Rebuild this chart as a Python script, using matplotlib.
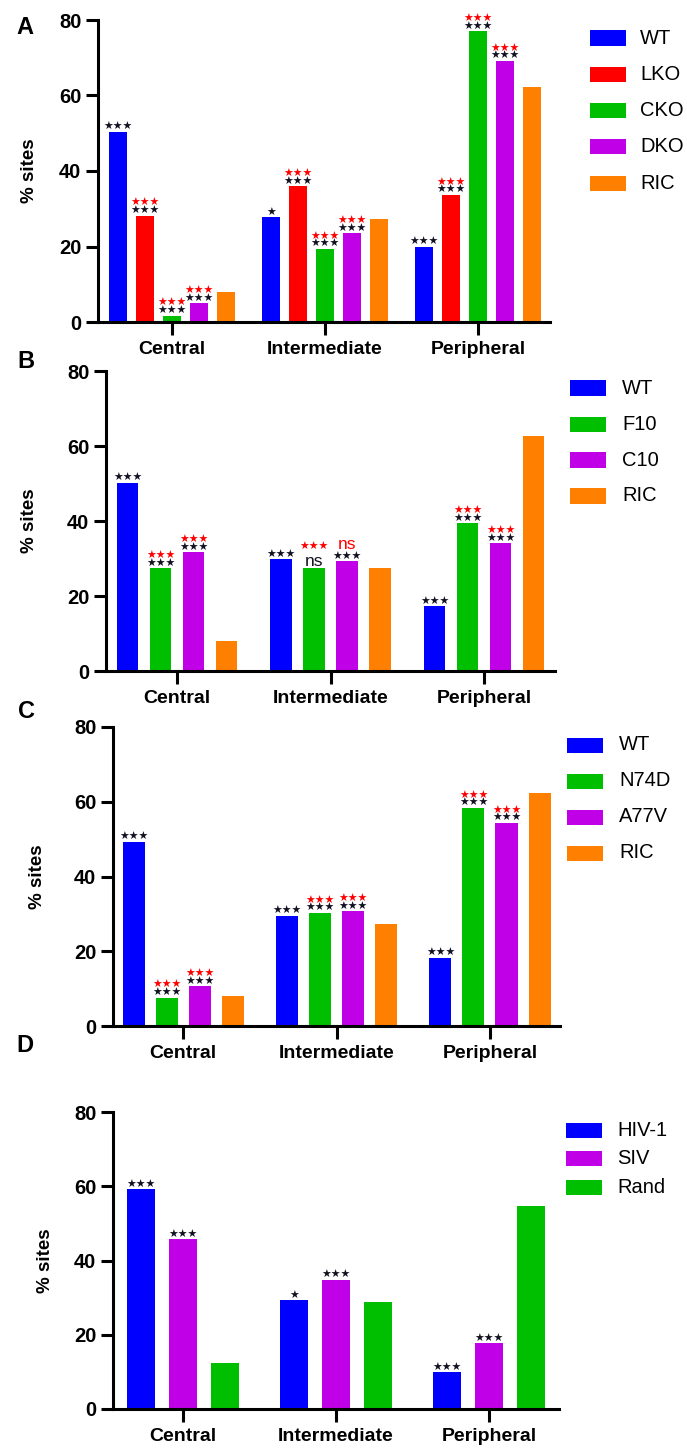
import numpy as np
import matplotlib
matplotlib.use('Agg')
import matplotlib.pyplot as plt
from matplotlib.patches import Rectangle

plt.rcParams['font.family'] = ['Liberation Sans', 'DejaVu Sans']

W, H = 687, 1450

# ── data
categories = ['Central', 'Intermediate', 'Peripheral']

a_labels = ['WT', 'LKO', 'CKO', 'DKO', 'RIC']
a_wt = [50.4, 27.8, 20.0]
a_lko = [28.2, 35.9, 33.7]
a_cko = [1.7, 19.4, 77.0]
a_dko = [5.0, 23.6, 69.2]
a_ric = [7.9, 27.2, 62.3]
a_black = [['***', '*', '***'], ['***', '***', '***'], ['***', '***', '***'],
           ['***', '***', '***'], ['', '', '']]
a_red = [['', '', ''], ['***', '***', '***'], ['***', '***', '***'],
         ['***', '***', '***'], ['', '', '']]

b_labels = ['WT', 'F10', 'C10', 'RIC']
b_wt = [50.2, 29.8, 17.3]
b_f10 = [27.5, 27.5, 39.4]
b_c10 = [31.7, 29.3, 34.1]
b_ric = [8.0, 27.4, 62.7]
b_black = [['***', '***', '***'], ['***', 'ns', '***'], ['***', '***', '***'], ['', '', '']]
b_red = [['', '', ''], ['***', '***', '***'], ['***', 'ns', '***'], ['', '', '']]

c_labels = ['WT', 'N74D', 'A77V', 'RIC']
c_wt = [49.3, 29.5, 18.3]
c_n74d = [7.6, 30.3, 58.4]
c_a77v = [10.7, 30.8, 54.4]
c_ric = [8.0, 27.3, 62.4]
c_black = [['***', '***', '***'], ['***', '***', '***'], ['***', '***', '***'], ['', '', '']]
c_red = [['', '', ''], ['***', '***', '***'], ['***', '***', '***'], ['', '', '']]

d_labels = ['HIV-1', 'SIV', 'Rand']
d_hiv = [59.3, 29.3, 10.0]
d_siv = [45.7, 34.8, 17.7]
d_rand = [12.3, 28.8, 54.8]
d_black = [['***', '*', '***'], ['***', '***', '***'], ['', '', '']]
d_red = [['', '', ''], ['', '', ''], ['', '', '']]

BLUE, RED, GREEN, PURPLE, ORANGE = '#0000FF', '#FF0000', '#00BF00', '#C000E6', '#FF8000'

panels = [
    dict(letter='A', labels=a_labels, series=[a_wt, a_lko, a_cko, a_dko, a_ric],
         colors=[BLUE, RED, GREEN, PURPLE, ORANGE], black=a_black, red=a_red,
         box=(98, 20, 550, 322), c0=172, sp=153, bw=18.5, step=27,
         leg=(590, 640, 38, 36.3, 15), letter_xy=(25, 27), ylab_x=30),
    dict(letter='B', labels=b_labels, series=[b_wt, b_f10, b_c10, b_ric],
         colors=[BLUE, GREEN, PURPLE, ORANGE], black=b_black, red=b_red,
         box=(106, 371, 555, 671), c0=177, sp=153.5, bw=21.5, step=33,
         leg=(570, 622, 388, 36, 15), letter_xy=(26, 362), ylab_x=29),
    dict(letter='C', labels=c_labels, series=[c_wt, c_n74d, c_a77v, c_ric],
         colors=[BLUE, GREEN, PURPLE, ORANGE], black=c_black, red=c_red,
         box=(113, 727, 560, 1026), c0=183, sp=153.5, bw=22, step=33,
         leg=(567, 619, 745, 36, 15), letter_xy=(26, 711), ylab_x=37),
    dict(letter='D', labels=d_labels, series=[d_hiv, d_siv, d_rand],
         colors=[BLUE, PURPLE, GREEN], black=d_black, red=d_red,
         box=(113, 1112, 559, 1409), c0=183, sp=153, bw=28, step=42,
         leg=(566, 617, 1130, 28.7, 15), letter_xy=(25, 1046), ylab_x=45),
]

fig = plt.figure(figsize=(W / 100, H / 100), dpi=100)


def mark(ax, s, x, y, off, color, z):
    # '*' drawn as a filled star, 'ns' as plain text
    if s == 'ns':
        ax.annotate(s, (x, y), xytext=(0, off), textcoords='offset points', ha='center',
                    va='baseline', fontsize=12.5, color=color, zorder=z)
    else:
        ax.annotate(s.replace('*', '★'), (x, y), xytext=(0, off), textcoords='offset points',
                    ha='center', va='baseline', fontsize=7.8, color=color,
                    family=['DejaVu Sans'], zorder=z)


for p in panels:
    l, t, r, b = p['box']
    ax = fig.add_axes([l / W, 1 - b / H, (r - l) / W, (b - t) / H])
    sp = p['sp']
    n = len(p['series'])
    x = np.arange(len(categories))
    bw = p['bw'] / sp
    step = p['step'] / sp
    for i, (vals, col) in enumerate(zip(p['series'], p['colors'])):
        xs = x + (i - (n - 1) / 2) * step
        ax.bar(xs, vals, width=bw, color=col, edgecolor='none', zorder=2)
        for j in range(len(categories)):
            bl = p['black'][i][j]
            rd = p['red'][i][j]
            off = 1.0
            if bl:
                mark(ax, bl, xs[j], vals[j], off, '#111122', 5)
                off += 12.0 if bl == 'ns' else 5.6
            if rd:
                if rd == 'ns':
                    off += 2.0
                mark(ax, rd, xs[j], vals[j], off, RED, 4)

    ax.set_xlim((l - p['c0']) / sp, (r - p['c0']) / sp)
    ax.set_ylim(0, 80)
    ax.set_yticks([0, 20, 40, 60, 80])
    ax.set_xticks(x)
    ax.set_xticklabels(categories, fontsize=14, fontweight='bold')
    for lab in ax.get_yticklabels():
        lab.set_fontweight('bold')
        lab.set_fontsize(14.5)
    for s in ['top', 'right']:
        ax.spines[s].set_visible(False)
    for s in ['left', 'bottom']:
        ax.spines[s].set_linewidth(2.2)
    ax.tick_params(axis='both', length=9, width=2.2, color='black')
    ax.tick_params(axis='y', pad=3)
    ax.tick_params(axis='x', pad=5)

    fig.text(p['ylab_x'] / W, 1 - ((t + b) / 2) / H, '% sites', rotation=90,
             ha='center', va='center', fontsize=13.5, fontweight='bold')
    lx, ly = p['letter_xy']
    fig.text(lx / W, 1 - ly / H, p['letter'], ha='center', va='center',
             fontsize=17, fontweight='bold')

    # legend
    px, tx, y0, dy, ph = p['leg']
    for k, (lab, col) in enumerate(zip(p['labels'], p['colors'])):
        yc = y0 + k * dy
        fig.patches.append(Rectangle((px / W, 1 - (yc + ph / 2) / H), 36 / W, ph / H,
                                     transform=fig.transFigure, facecolor=col,
                                     edgecolor='none'))
        fig.text(tx / W, 1 - yc / H, lab, ha='left', va='center', fontsize=14.5)

fig.savefig('out.png', dpi=100)
